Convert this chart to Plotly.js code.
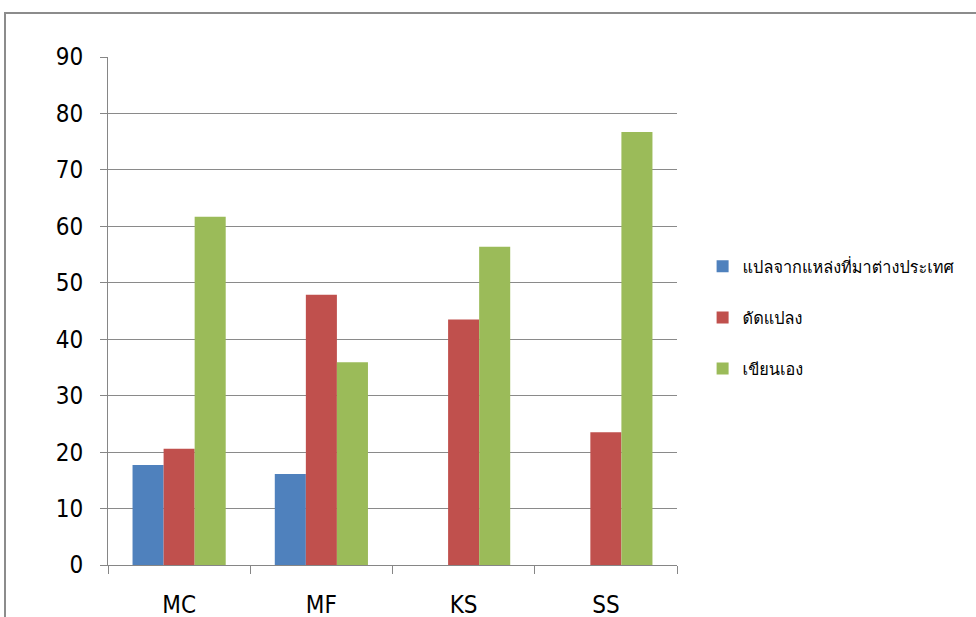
<!DOCTYPE html>
<html>
<head>
<meta charset="utf-8">
<script src="https://cdn.plot.ly/plotly-3.0.1.min.js"></script>
<style>
  html, body { margin: 0; padding: 0; background: #ffffff; }
  #wrap { position: relative; width: 976px; height: 617px; overflow: hidden; }
  #frame { position: absolute; left: 4px; top: 12px; right: -4px; bottom: -4px;
           border-top: 2px solid #8c8c8c; border-left: 2px solid #8c8c8c; }
  #chart { position: absolute; left: 0; top: 0; width: 976px; height: 617px; }
</style>
</head>
<body>
<div id="wrap">
  <div id="frame"></div>
  <div id="chart"></div>
</div>
<script>
// Categories on the x axis
const categories = ['MC', 'MF', 'KS', 'SS'];

// Series names (legend)
const seriesNames = ['แปลจากแหล่งที่มาต่างประเทศ', 'ดัดแปลง', 'เขียนเอง'];

// Series values, one per category
const translated = [17.7, 16.1, 0, 0];
const adapted    = [20.6, 47.9, 43.5, 23.5];
const original   = [61.7, 35.9, 56.4, 76.7];

const yTicks = [0, 10, 20, 30, 40, 50, 60, 70, 80, 90];

const colors = ['#4F81BD', '#C0504D', '#9BBB59'];
const values = [translated, adapted, original];

const axisFont = 'DejaVu Sans Condensed, DejaVu Sans, sans-serif';
const legendFont = 'Loma, Tahoma, Noto Sans Thai Looped, Garuda, DejaVu Sans, Noto Sans, sans-serif';

const traces = values.map((v, i) => ({
  type: 'bar',
  name: seriesNames[i],
  x: categories,
  y: v,
  legendgroup: 'g' + i,
  marker: { color: colors[i], line: { width: 0 } },
  hoverinfo: 'x+y+name'
}));

const layout = {
  width: 976,
  height: 617,
  margin: { l: 108, r: 299, t: 57, b: 52 },
  paper_bgcolor: 'rgba(0,0,0,0)',
  plot_bgcolor: '#ffffff',
  barmode: 'group',
  bargap: 0.345,
  bargroupgap: 0,
  showlegend: true,
  legend: {
    x: 1.045, xanchor: 'left',
    y: 0.487, yanchor: 'middle',
    traceorder: 'grouped',
    tracegroupgap: 27,
    font: { family: legendFont, size: 16.3, color: '#000000' },
    itemwidth: 30
  },
  xaxis: {
    type: 'category',
    showline: true,
    linecolor: '#868686',
    linewidth: 1,
    ticks: 'outside',
    tickson: 'boundaries',
    ticklen: 8,
    tickcolor: '#868686',
    showgrid: false,
    ticklabelstandoff: 18,
    tickfont: { family: axisFont, size: 24, color: '#000000' }
  },
  yaxis: {
    range: [0, 90],
    tickvals: yTicks,
    ticktext: yTicks.map(String),
    showline: true,
    linecolor: '#868686',
    linewidth: 1,
    ticks: 'outside',
    ticklen: 7,
    tickcolor: '#868686',
    showgrid: true,
    gridcolor: '#8a8a8a',
    gridwidth: 1,
    zeroline: false,
    ticklabelstandoff: 12,
    tickfont: { family: axisFont, size: 24, color: '#000000' }
  }
};

Plotly.newPlot('chart', traces, layout, { displayModeBar: false, staticPlot: true });
</script>
</body>
</html>
